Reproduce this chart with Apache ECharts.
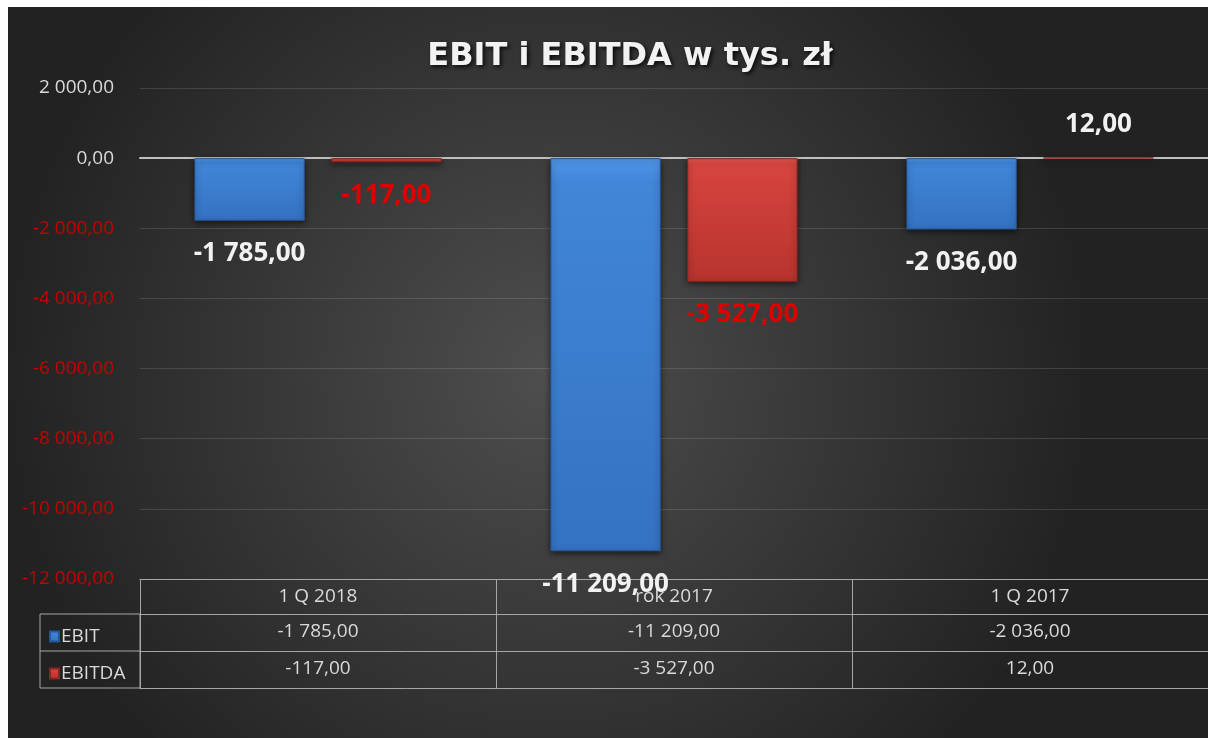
<!DOCTYPE html>
<html>
<head>
<meta charset="utf-8">
<script src="https://cdn.jsdelivr.net/npm/echarts@6/dist/echarts.min.js"></script>
<style>
  html, body { margin: 0; padding: 0; background: #fff; }
  #main { position: absolute; left: 8px; top: 7px; width: 1200px; height: 731px; }
</style>
</head>
<body>
<div id="main"></div>
<script>
var categories = ['1 Q 2018', 'rok 2017', '1 Q 2017'];
var ebit = [-1785, -11209, -2036];
var ebitda = [-117, -3527, 12];
var yTicks = { min: -12000, max: 2000, interval: 2000 };

var FONT = '"Open Sans", sans-serif';

// 1 785,00 style (Polish)
function fmt(v) {
    var s = Math.abs(v).toFixed(2).split('.');
    var int = s[0].replace(/\B(?=(\d{3})+(?!\d))/g, ' ');
    return (v < 0 ? '-' : '') + int + ',' + s[1];
}

var myChart = echarts.init(document.getElementById('main'));

var gLeft = 132, gTop = 81, gBottom = 159, H = 731, W = 1200;
var gBot = H - gBottom;
var rowH = [35, 37, 37];

var blue = new echarts.graphic.LinearGradient(0, 0, 0, 1, [
    { offset: 0, color: '#5198ea' },
    { offset: 0.06, color: '#4186d8' },
    { offset: 1, color: '#3472c2' }
]);
var red = new echarts.graphic.LinearGradient(0, 0, 0, 1, [
    { offset: 0, color: '#e6564f' },
    { offset: 0.06, color: '#d6443e' },
    { offset: 1, color: '#b8332e' }
]);

var tableAxis = function (offset, formatter, showLabel) {
    return {
        type: 'category',
        data: categories,
        position: 'bottom',
        offset: offset,
        axisLine: { onZero: false, show: true, lineStyle: { color: '#a6a6a6', width: 1 } },
        axisTick: { show: false },
        axisLabel: {
            show: showLabel,
            interval: 0,
            margin: 8,
            color: '#d9d9d9',
            fontSize: 19,
            fontFamily: FONT,
            formatter: formatter
        },
        splitLine: { show: false }
    };
};

var hdr = tableAxis(0, null, true);
hdr.axisTick = { show: true, interval: 0, length: rowH[0] + rowH[1] + rowH[2], lineStyle: { color: '#a6a6a6' } };

option = {
    backgroundColor: new echarts.graphic.RadialGradient(0.45, 0.5, 0.75, [
        { offset: 0, color: '#4e4e4e' },
        { offset: 1, color: '#222222' }
    ]),
    title: {
        text: 'EBIT i EBITDA w tys. zł',
        left: 617,
        textAlign: 'center',
        top: 29,
        textStyle: {
            color: '#f2f2f2',
            fontSize: 32,
            fontWeight: 'bold',
            fontFamily: '"DejaVu Sans", sans-serif',
            textShadowColor: 'rgba(0,0,0,0.8)',
            textShadowBlur: 4,
            textShadowOffsetX: 2,
            textShadowOffsetY: 2
        }
    },
    legend: {
        orient: 'vertical',
        left: 36,
        top: gBot + rowH[0] + 8,
        itemWidth: 9,
        itemHeight: 10,
        itemGap: 18,
        icon: 'rect',
        textStyle: { color: '#d9d9d9', fontSize: 19, fontFamily: FONT, padding: [0, 0, 0, -3] },
        data: ['EBIT', 'EBITDA']
    },
    grid: { left: gLeft, right: 0, top: gTop, bottom: gBottom },
    xAxis: [
        {
            type: 'category',
            data: categories,
            axisLine: { show: true, onZero: true, lineStyle: { color: '#bfbfbf', width: 2 } },
            axisTick: { show: false },
            axisLabel: { show: false }
        },
        hdr,
        tableAxis(rowH[0], function (v, i) { return fmt(ebit[i]); }, true),
        tableAxis(rowH[0] + rowH[1], function (v, i) { return fmt(ebitda[i]); }, true),
        tableAxis(rowH[0] + rowH[1] + rowH[2], null, false)
    ],
    yAxis: {
        type: 'value',
        min: yTicks.min,
        max: yTicks.max,
        interval: yTicks.interval,
        axisLine: { show: false },
        axisTick: { show: false },
        splitLine: { lineStyle: { color: 'rgba(255,255,255,0.13)', width: 1 } },
        axisLabel: {
            margin: 26,
            fontSize: 19,
            fontFamily: FONT,
            formatter: function (v) { return fmt(v); },
            color: function (v) { return Number(v) < 0 ? '#c40000' : '#d9d9d9'; }
        }
    },
    series: [
        {
            name: 'EBIT',
            type: 'bar',
            data: ebit,
            barWidth: '31%',
            barGap: '24%',
            itemStyle: {
                color: blue,
                borderColor: '#24569a',
                borderWidth: 1,
                shadowBlur: 6,
                shadowColor: 'rgba(0,0,0,0.6)',
                shadowOffsetY: 2
            },
            label: {
                show: true,
                position: 'outside',
                distance: 20,
                color: '#f2f2f2',
                fontSize: 26,
                fontWeight: 'bold',
                fontFamily: FONT,
                formatter: function (p) { return fmt(p.value); }
            }
        },
        {
            name: 'EBITDA',
            type: 'bar',
            data: ebitda,
            barWidth: '31%',
            itemStyle: {
                color: red,
                borderColor: '#8a2420',
                borderWidth: 1,
                shadowBlur: 6,
                shadowColor: 'rgba(0,0,0,0.6)',
                shadowOffsetY: 2
            },
            label: {
                show: true,
                position: 'outside',
                distance: 20,
                fontSize: 26,
                fontWeight: 'bold',
                fontFamily: FONT,
                formatter: function (p) { return fmt(p.value); }
            }
        }
    ],
    graphic: [
        {
            type: 'rect',
            shape: { x: 32, y: gBot + rowH[0], width: gLeft - 32, height: rowH[1] + rowH[2] },
            style: { fill: 'none', stroke: '#a6a6a6', lineWidth: 1 },
            silent: true
        },
        {
            type: 'line',
            shape: { x1: 32, y1: gBot + rowH[0] + rowH[1], x2: gLeft, y2: gBot + rowH[0] + rowH[1] },
            style: { stroke: '#a6a6a6', lineWidth: 1 },
            silent: true
        }
    ]
};

// red labels below negative EBITDA bars, light label above the positive one
option.series[1].data = ebitda.map(function (v) {
    return {
        value: v,
        label: { color: v < 0 ? '#e00000' : '#f2f2f2', position: v < 0 ? 'bottom' : 'top' }
    };
});

myChart.setOption(option);
</script>
</body>
</html>
